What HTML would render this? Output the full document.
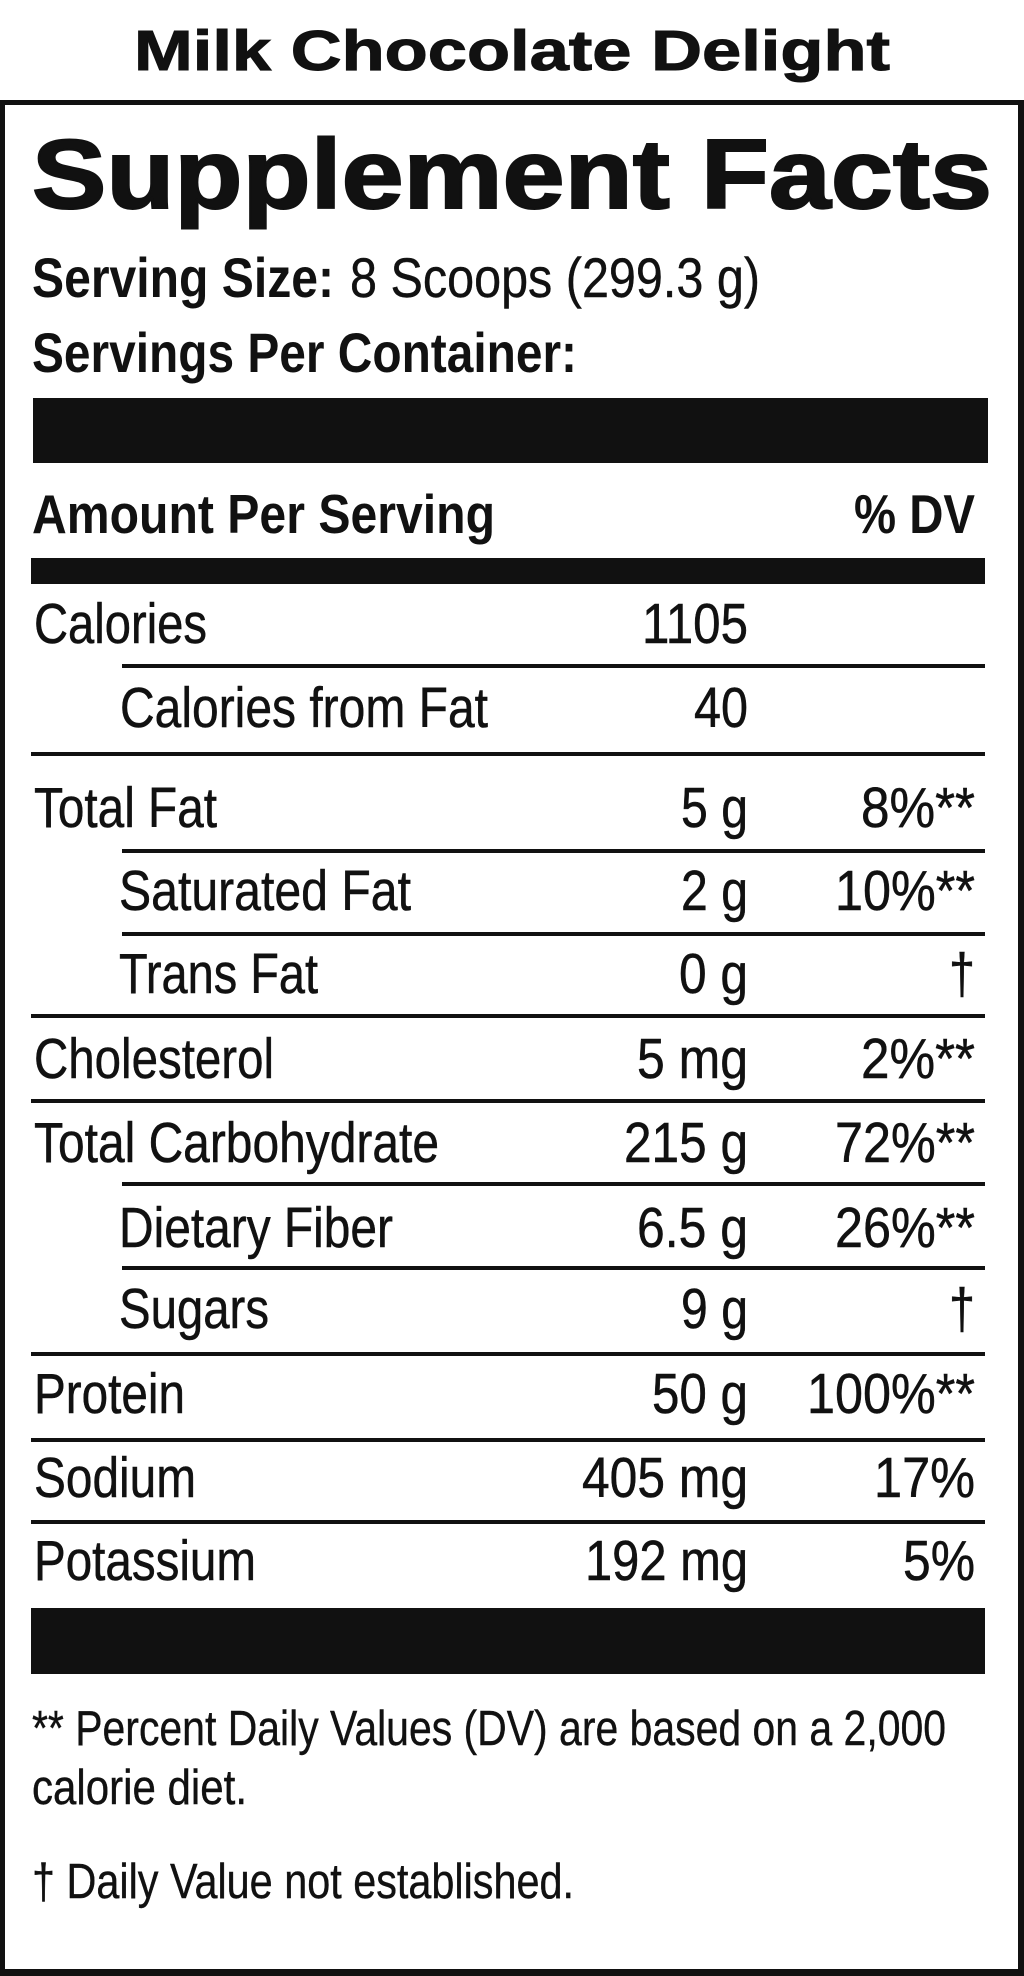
<!DOCTYPE html>
<html>
<head>
<meta charset="utf-8">
<style>
  html, body { margin: 0; padding: 0; background: #fff; }
  svg { display: block; }
  text { font-family: "Liberation Sans", Arial, sans-serif; fill: #111; }
  .b { font-weight: bold; }
  .r text { stroke: #111; stroke-width: 0.5; }
  .f { stroke: #111; stroke-width: 0.4; }
</style>
</head>
<body>
<svg width="1024" height="1976" viewBox="0 0 1024 1976" xmlns="http://www.w3.org/2000/svg">
  <rect x="0" y="0" width="1024" height="1976" fill="#fff"/>

  <!-- Title -->
  <text class="b" x="134" y="70" font-size="57" textLength="756" lengthAdjust="spacingAndGlyphs" stroke="#111" stroke-width="1">Milk Chocolate Delight</text>

  <!-- Outer box -->
  <rect x="0" y="100" width="1024" height="5" fill="#111"/>
  <rect x="0" y="100" width="5" height="1876" fill="#111"/>
  <rect x="1018" y="100" width="6" height="1876" fill="#111"/>
  <rect x="0" y="1969" width="1024" height="7" fill="#111"/>

  <!-- Supplement Facts -->
  <text class="b" x="32" y="208" font-size="98" textLength="960" lengthAdjust="spacingAndGlyphs" stroke="#111" stroke-width="2">Supplement Facts</text>

  <!-- Serving info -->
  <text class="b" x="32" y="297" font-size="56" textLength="302" lengthAdjust="spacingAndGlyphs">Serving Size:</text>
  <text class="f" x="350" y="297" font-size="56" textLength="410" lengthAdjust="spacingAndGlyphs">8 Scoops (299.3 g)</text>
  <text class="b" x="32" y="372" font-size="56" textLength="545" lengthAdjust="spacingAndGlyphs">Servings Per Container:</text>

  <!-- Top bar -->
  <rect x="33" y="398" width="955" height="65" fill="#111"/>

  <!-- Header -->
  <text class="b" x="32" y="533" font-size="55" textLength="463" lengthAdjust="spacingAndGlyphs">Amount Per Serving</text>
  <text class="b" x="854" y="533" font-size="55" textLength="121" lengthAdjust="spacingAndGlyphs">% DV</text>

  <!-- Thick bar -->
  <rect x="31" y="558" width="954" height="26" fill="#111"/>

  <!-- Rows -->
  <g class="r">
    <!-- Calories -->
    <text x="34" y="643" font-size="57" textLength="173" lengthAdjust="spacingAndGlyphs">Calories</text>
    <text x="642" y="643" font-size="57" textLength="106" lengthAdjust="spacingAndGlyphs">1105</text>
    <rect x="122" y="664" width="863" height="4" fill="#111"/>

    <!-- Calories from Fat -->
    <text x="120" y="727" font-size="57" textLength="368" lengthAdjust="spacingAndGlyphs">Calories from Fat</text>
    <text x="694" y="727" font-size="57" textLength="54" lengthAdjust="spacingAndGlyphs">40</text>
    <rect x="31" y="752" width="954" height="4" fill="#111"/>

    <!-- Total Fat -->
    <text x="34" y="827" font-size="57" textLength="183" lengthAdjust="spacingAndGlyphs">Total Fat</text>
    <text x="681" y="827" font-size="57" textLength="67" lengthAdjust="spacingAndGlyphs">5 g</text>
    <text x="861" y="827" font-size="57" textLength="114" lengthAdjust="spacingAndGlyphs">8%**</text>
    <rect x="122" y="849" width="863" height="4" fill="#111"/>

    <!-- Saturated Fat -->
    <text x="119" y="910" font-size="57" textLength="292" lengthAdjust="spacingAndGlyphs">Saturated Fat</text>
    <text x="681" y="910" font-size="57" textLength="67" lengthAdjust="spacingAndGlyphs">2 g</text>
    <text x="835" y="910" font-size="57" textLength="140" lengthAdjust="spacingAndGlyphs">10%**</text>
    <rect x="122" y="932" width="863" height="4" fill="#111"/>

    <!-- Trans Fat -->
    <text x="119" y="993" font-size="57" textLength="199" lengthAdjust="spacingAndGlyphs">Trans Fat</text>
    <text x="679" y="993" font-size="57" textLength="69" lengthAdjust="spacingAndGlyphs">0 g</text>
    <text x="949" y="993" font-size="57" textLength="26" lengthAdjust="spacingAndGlyphs">†</text>
    <rect x="31" y="1014" width="954" height="4" fill="#111"/>

    <!-- Cholesterol -->
    <text x="34" y="1078" font-size="57" textLength="240" lengthAdjust="spacingAndGlyphs">Cholesterol</text>
    <text x="637" y="1078" font-size="57" textLength="111" lengthAdjust="spacingAndGlyphs">5 mg</text>
    <text x="861" y="1078" font-size="57" textLength="114" lengthAdjust="spacingAndGlyphs">2%**</text>
    <rect x="31" y="1099" width="954" height="4" fill="#111"/>

    <!-- Total Carbohydrate -->
    <text x="34" y="1162" font-size="57" textLength="405" lengthAdjust="spacingAndGlyphs">Total Carbohydrate</text>
    <text x="624" y="1162" font-size="57" textLength="124" lengthAdjust="spacingAndGlyphs">215 g</text>
    <text x="835" y="1162" font-size="57" textLength="140" lengthAdjust="spacingAndGlyphs">72%**</text>
    <rect x="122" y="1182" width="863" height="4" fill="#111"/>

    <!-- Dietary Fiber -->
    <text x="119" y="1247" font-size="57" textLength="274" lengthAdjust="spacingAndGlyphs">Dietary Fiber</text>
    <text x="637" y="1247" font-size="57" textLength="111" lengthAdjust="spacingAndGlyphs">6.5 g</text>
    <text x="835" y="1247" font-size="57" textLength="140" lengthAdjust="spacingAndGlyphs">26%**</text>
    <rect x="122" y="1266" width="863" height="4" fill="#111"/>

    <!-- Sugars -->
    <text x="119" y="1328" font-size="57" textLength="150" lengthAdjust="spacingAndGlyphs">Sugars</text>
    <text x="681" y="1328" font-size="57" textLength="67" lengthAdjust="spacingAndGlyphs">9 g</text>
    <text x="949" y="1328" font-size="57" textLength="26" lengthAdjust="spacingAndGlyphs">†</text>
    <rect x="31" y="1352" width="954" height="4" fill="#111"/>

    <!-- Protein -->
    <text x="34" y="1413" font-size="57" textLength="151" lengthAdjust="spacingAndGlyphs">Protein</text>
    <text x="652" y="1413" font-size="57" textLength="96" lengthAdjust="spacingAndGlyphs">50 g</text>
    <text x="807" y="1413" font-size="57" textLength="168" lengthAdjust="spacingAndGlyphs">100%**</text>
    <rect x="31" y="1438" width="954" height="4" fill="#111"/>

    <!-- Sodium -->
    <text x="34" y="1497" font-size="57" textLength="162" lengthAdjust="spacingAndGlyphs">Sodium</text>
    <text x="582" y="1497" font-size="57" textLength="166" lengthAdjust="spacingAndGlyphs">405 mg</text>
    <text x="874" y="1497" font-size="57" textLength="101" lengthAdjust="spacingAndGlyphs">17%</text>
    <rect x="31" y="1520" width="954" height="4" fill="#111"/>

    <!-- Potassium -->
    <text x="34" y="1580" font-size="57" textLength="222" lengthAdjust="spacingAndGlyphs">Potassium</text>
    <text x="585" y="1580" font-size="57" textLength="163" lengthAdjust="spacingAndGlyphs">192 mg</text>
    <text x="903" y="1580" font-size="57" textLength="72" lengthAdjust="spacingAndGlyphs">5%</text>
  </g>

  <!-- Bottom bar -->
  <rect x="31" y="1608" width="954" height="66" fill="#111"/>

  <!-- Footnotes -->
  <text class="f" x="32" y="1745" font-size="49" textLength="914" lengthAdjust="spacingAndGlyphs">** Percent Daily Values (DV) are based on a 2,000</text>
  <text class="f" x="32" y="1804" font-size="49" textLength="215" lengthAdjust="spacingAndGlyphs">calorie diet.</text>
  <text class="f" x="32" y="1898" font-size="49" textLength="542" lengthAdjust="spacingAndGlyphs">† Daily Value not established.</text>
</svg>
</body>
</html>
